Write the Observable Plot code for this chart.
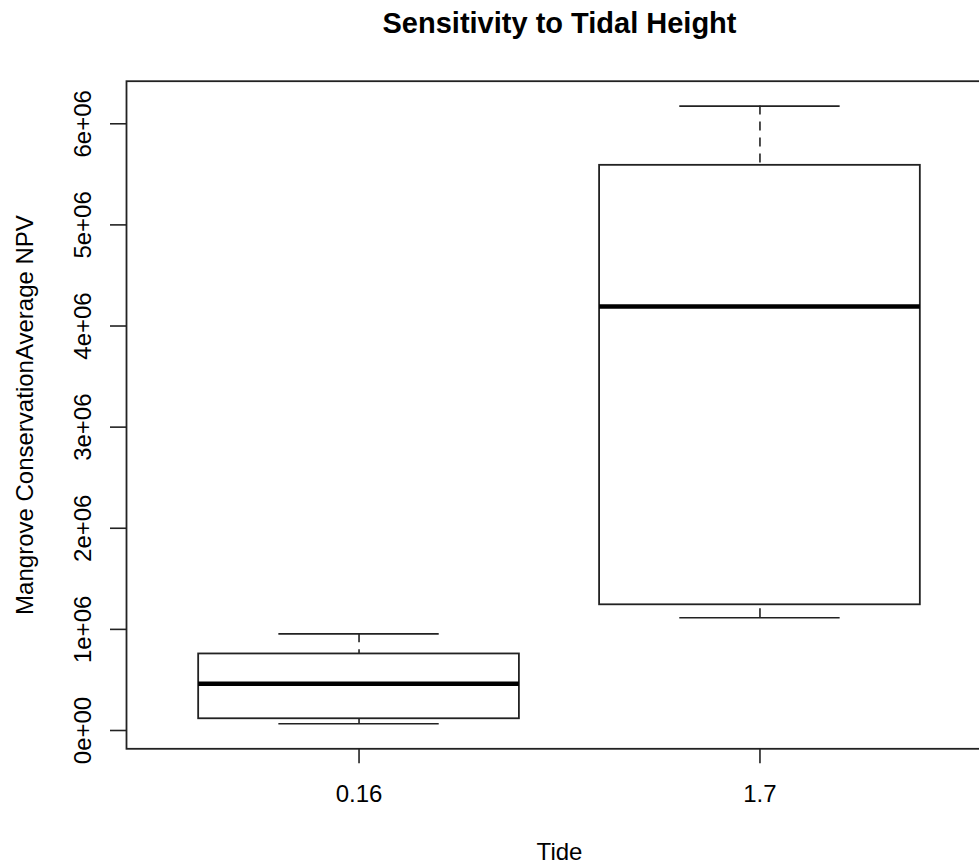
<!DOCTYPE html>
<html>
<head>
<meta charset="utf-8">
<script src="https://cdn.jsdelivr.net/npm/d3@7"></script>
<script src="https://cdn.jsdelivr.net/npm/@observablehq/plot@0.6"></script>
<style>
  html, body { margin: 0; padding: 0; background: white; overflow: hidden; }
  #chart svg { overflow: hidden; }
</style>
</head>
<body>
<div id="chart"></div>
<script>
// Data
const groups = ["0.16", "1.7"];
const lowerWhisker = [0.066e6, 1.115e6];
const q1 = [0.116e6, 1.243e6];
const median = [0.462e6, 4.194e6];
const q3 = [0.757e6, 5.589e6];
const upperWhisker = [0.956e6, 6.175e6];
const yTicks = [0, 1e6, 2e6, 3e6, 4e6, 5e6, 6e6];
const yTickLabels = ["0e+00", "1e+06", "2e+06", "3e+06", "4e+06", "5e+06", "6e+06"];
const title = "Sensitivity to Tidal Height";
const xLabel = "Tide";
const yLabel = "Mangrove ConservationAverage NPV";

const boxes = groups.map((g, i) => ({
  pos: i + 1, group: g,
  lo: lowerWhisker[i], q1: q1[i], med: median[i], q3: q3[i], hi: upperWhisker[i]
}));

const font = "'Liberation Sans', Arial, Helvetica, sans-serif";
const ink = "#222";
const halfBox = 0.4, halfCap = 0.2;

const chart = Plot.plot({
  width: 979,
  height: 864,
  marginLeft: 126,
  marginRight: -13,
  marginTop: 80.7,
  marginBottom: 115.7,
  style: { fontFamily: font, background: "white", color: "black", overflow: "hidden" },
  x: { type: "linear", domain: [0.42, 2.58] },
  y: { domain: [-0.181e6, 6.421e6] },
  marks: [
    // frame (left, top, bottom; right edge lies beyond the image)
    Plot.frame({ stroke: ink, strokeWidth: 1.8 }),
    // whiskers (dashed)
    Plot.ruleX(boxes, { x: "pos", y1: "hi", y2: "q3", stroke: ink, strokeWidth: 1.6, strokeDasharray: "9,7" }),
    Plot.ruleX(boxes, { x: "pos", y1: "lo", y2: "q1", stroke: ink, strokeWidth: 1.6, strokeDasharray: "9,7" }),
    // whisker caps
    Plot.ruleY(boxes, { y: "hi", x1: d => d.pos - halfCap, x2: d => d.pos + halfCap, stroke: ink, strokeWidth: 1.6 }),
    Plot.ruleY(boxes, { y: "lo", x1: d => d.pos - halfCap, x2: d => d.pos + halfCap, stroke: ink, strokeWidth: 1.6 }),
    // boxes
    Plot.rect(boxes, { x1: d => d.pos - halfBox, x2: d => d.pos + halfBox, y1: "q1", y2: "q3", fill: "white", stroke: ink, strokeWidth: 1.8 }),
    // medians
    Plot.ruleY(boxes, { y: "med", x1: d => d.pos - halfBox, x2: d => d.pos + halfBox, stroke: "black", strokeWidth: 4.5 }),
    // x axis
    Plot.axisX({ ticks: boxes.map(d => d.pos), tickFormat: (d) => groups[d - 1], tickSize: 15, tickPadding: 21, fontSize: 24, label: null, stroke: ink, strokeWidth: 1.6, color: "black" }),
    // y axis ticks
    Plot.axisY({ ticks: yTicks, tickSize: 16, text: null, label: null, stroke: ink, strokeWidth: 1.6 }),
    // y tick labels (rotated, parallel to axis)
    Plot.text(yTicks, { y: d => d, text: (d, i) => yTickLabels[i], frameAnchor: "left", rotate: -90, dx: -36, lineAnchor: "bottom", textAnchor: "middle", fontSize: 24, fill: "black" }),
    // title
    Plot.text([title], { frameAnchor: "top", dy: -47.7, lineAnchor: "bottom", fontSize: 29, fontWeight: "bold", fill: "black" }),
    // x label
    Plot.text([xLabel], { frameAnchor: "bottom", dy: 111, lineAnchor: "bottom", fontSize: 24, fill: "black" }),
    // y label
    Plot.text([yLabel], { frameAnchor: "left", dx: -94, rotate: -90, lineAnchor: "bottom", textAnchor: "middle", fontSize: 24, fill: "black" })
  ]
});
document.getElementById("chart").appendChild(chart);
</script>
</body>
</html>
